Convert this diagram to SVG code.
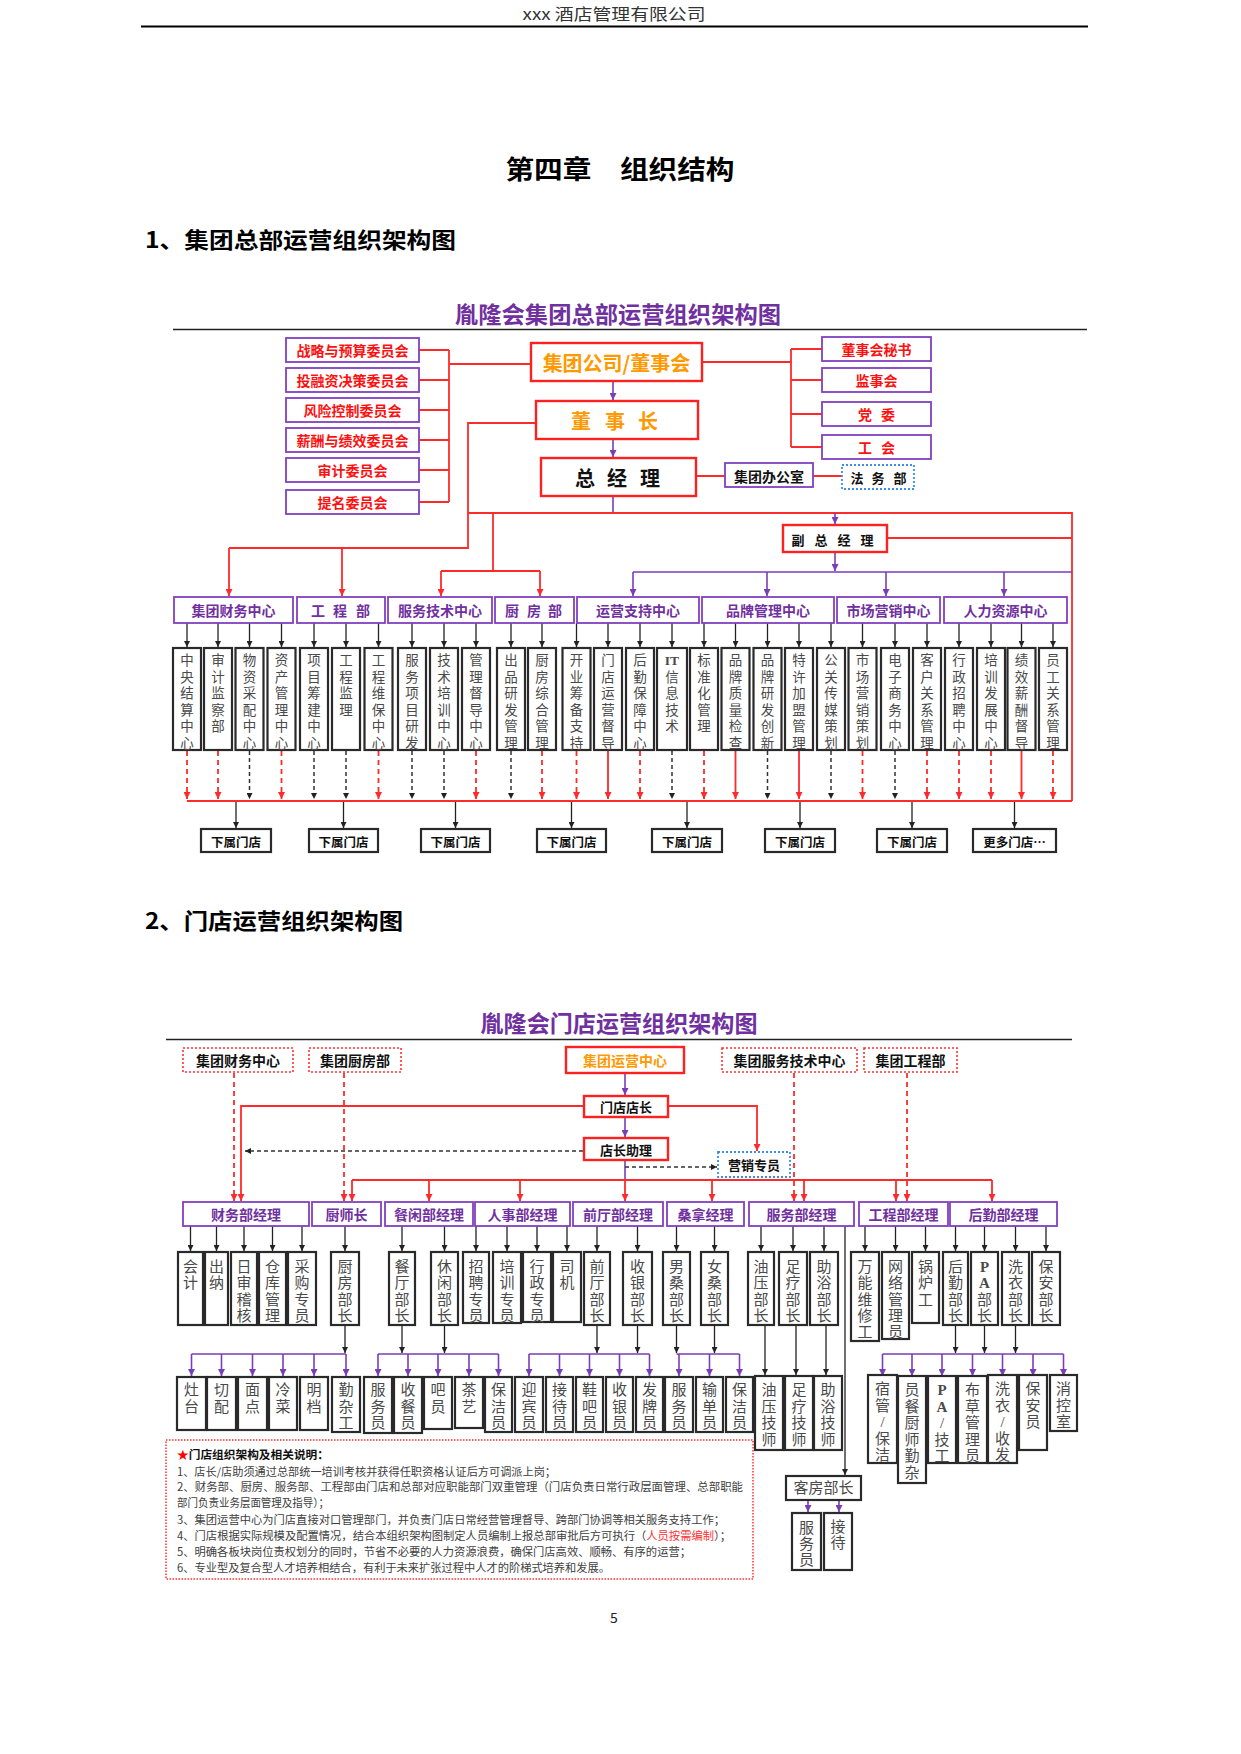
<svg xmlns="http://www.w3.org/2000/svg" width="1241" height="1754" viewBox="0 0 1241 1754">
<style>
text{font-family:"Noto Sans CJK SC",sans-serif}
.b{font-weight:700;text-anchor:middle;dominant-baseline:central}
.red{fill:#FF1010}
.pur{fill:#7030A0}
.org{fill:#FF9900}
.blk{fill:#111}
.f12{font-size:12.5px}.f13{font-size:13px}.f14{font-size:14px}.f20{font-size:20px}
.vt{font-family:"Liberation Serif","Noto Sans CJK SC",serif;font-size:13.5px;fill:#4a4a4a;text-anchor:middle;dominant-baseline:central}
.vt2{font-family:"Liberation Serif","Noto Sans CJK SC",serif;font-size:15px;fill:#4a4a4a;text-anchor:middle;dominant-baseline:central}
.pb{fill:#fff;stroke:#8040C0;stroke-width:1.8}
.rb{fill:#fff;stroke:#FF2020;stroke-width:2.4}
.rd{fill:#fff;stroke:#FF3030;stroke-width:1.6;stroke-dasharray:2 2}
.bd{fill:#fff;stroke:#3A8FE0;stroke-width:1.8;stroke-dasharray:2 2}
.kb{fill:#fff;stroke:#2a2a2a;stroke-width:2.2}
.rl{fill:none;stroke:#FF2A2A;stroke-width:1.8}
.rdl{fill:none;stroke:#FF2A2A;stroke-width:1.8;stroke-dasharray:5 4}
.pl{fill:none;stroke:#7A3DB8;stroke-width:1.6}
.kl{fill:none;stroke:#222;stroke-width:1.3}
.kdl{fill:none;stroke:#333;stroke-width:1.5;stroke-dasharray:4 3}
.mr{marker-end:url(#mr)}
.mp{marker-end:url(#mp)}
.mk{marker-end:url(#mk)}
.note{font-size:11.2px;fill:#404040}
</style>
<defs>
<marker id="mr" viewBox="0 0 10 10" refX="10" refY="5" markerWidth="7" markerHeight="7" markerUnits="userSpaceOnUse" orient="auto"><path d="M0,0L10,5L0,10z" fill="#FF2A2A"/></marker>
<marker id="mp" viewBox="0 0 10 10" refX="10" refY="5" markerWidth="7" markerHeight="7" markerUnits="userSpaceOnUse" orient="auto"><path d="M0,0L10,5L0,10z" fill="#7A3DB8"/></marker>
<marker id="mk" viewBox="0 0 10 10" refX="10" refY="5" markerWidth="6" markerHeight="6" markerUnits="userSpaceOnUse" orient="auto"><path d="M0,0L10,5L0,10z" fill="#222"/></marker>
</defs>
<rect width="1241" height="1754" fill="#fff"/>

<!-- page header -->
<text x="614" y="20" font-family="Liberation Serif, Noto Sans CJK SC, serif" font-size="16" text-anchor="middle" fill="#333" textLength="183" lengthAdjust="spacingAndGlyphs">xxx 酒店管理有限公司</text>
<line x1="141" y1="26.5" x2="1088" y2="26.5" stroke="#000" stroke-width="2"/>
<text x="620" y="179" font-size="26" font-weight="700" text-anchor="middle" fill="#000" textLength="229" lengthAdjust="spacingAndGlyphs">第四章　组织结构</text>
<text x="145" y="248" font-size="22" font-weight="700" fill="#000" textLength="311" lengthAdjust="spacingAndGlyphs">1、集团总部运营组织架构图</text>

<!-- ============ CHART 1 ============ -->
<text x="618" y="323" font-size="23" font-weight="700" text-anchor="middle" fill="#7030A0" textLength="326" lengthAdjust="spacingAndGlyphs">胤隆会集团总部运营组织架构图</text>
<line x1="173" y1="329.5" x2="1087" y2="329.5" stroke="#222" stroke-width="1.6"/>

<g id="connectors1">
<path class="rl" d="M419,350H449M419,380H449M419,410H449M419,440H449M419,470H449M419,502H449M449,350V502M449,364H531"/>
<path class="rl" d="M702,362H791M791,349V447M791,349H822M791,380H822M791,414H822M791,447H822"/>
<path class="pl mp" d="M613,381V400"/>
<path class="pl mp" d="M613,439V457"/>
<path class="pl" d="M613,496V513"/>
<path class="rl" d="M696,476H725M813,476H842"/>
<path class="rl" d="M536,423H468V548H229"/>
<path class="rl mr" d="M229,548V596"/>
<path class="rl mr" d="M342,548V596"/>
<path class="rl" d="M468,513H1072V801"/>
<path class="rl" d="M493,513V571M441,571H540"/>
<path class="rl mr" d="M441,571V596"/>
<path class="rl mr" d="M540,571V596"/>
<path class="pl mp" d="M835,513V524"/>
<path class="pl mp" d="M835,552V571"/>
<path class="pl" d="M633,572H1072"/>
<path class="pl mp" d="M633,572V596"/>
<path class="pl mp" d="M767,572V596"/>
<path class="pl mp" d="M886,572V596"/>
<path class="pl mp" d="M1004,572V596"/>
<path class="rl" d="M887,538H1072M187,801H1072"/>
<!-- dept to columns -->
<path class="kl mk" d="M187,623V647"/><path class="kl mk" d="M218,623V647"/><path class="kl mk" d="M249.5,623V647"/><path class="kl mk" d="M281.5,623V647"/>
<path class="kl mk" d="M314,623V647"/><path class="kl mk" d="M346,623V647"/><path class="kl mk" d="M378.5,623V647"/>
<path class="kl mk" d="M412,623V647"/><path class="kl mk" d="M444,623V647"/><path class="kl mk" d="M476,623V647"/>
<path class="kl mk" d="M511,623V647"/><path class="kl mk" d="M542,623V647"/>
<path class="kl mk" d="M576.5,623V647"/><path class="kl mk" d="M608,623V647"/><path class="kl mk" d="M640,623V647"/><path class="kl mk" d="M672,623V647"/>
<path class="kl mk" d="M704,623V647"/><path class="kl mk" d="M735.5,623V647"/><path class="kl mk" d="M767.5,623V647"/><path class="kl mk" d="M799,623V647"/><path class="kl mk" d="M831,623V647"/>
<path class="kl mk" d="M862.5,623V647"/><path class="kl mk" d="M895,623V647"/><path class="kl mk" d="M927,623V647"/>
<path class="kl mk" d="M959,623V647"/><path class="kl mk" d="M991,623V647"/><path class="kl mk" d="M1021.5,623V647"/><path class="kl mk" d="M1053,623V647"/>
<!-- columns to bottom line -->
<path class="rdl mr" d="M187,751V799"/><path class="rdl mr" d="M218,751V799"/><path class="kdl mk" d="M249.5,751V799"/><path class="rdl mr" d="M281.5,751V799"/>
<path class="kdl mk" d="M314,751V799"/><path class="kdl mk" d="M346,751V799"/><path class="rdl mr" d="M378.5,751V799"/>
<path class="kdl mk" d="M412,751V799"/><path class="kdl mk" d="M444,751V799"/><path class="rdl mr" d="M476,751V799"/>
<path class="kdl mk" d="M511,751V799"/><path class="rdl mr" d="M542,751V799"/>
<path class="rdl mr" d="M576.5,751V799"/><path class="rl mr" d="M608,751V799"/><path class="rdl mr" d="M640,751V799"/><path class="kdl mk" d="M672,751V799"/>
<path class="rdl mr" d="M704,751V799"/><path class="rl mr" d="M735.5,751V799"/><path class="kdl mk" d="M767.5,751V799"/><path class="rl mr" d="M799,751V799"/><path class="kdl mk" d="M831,751V799"/>
<path class="rdl mr" d="M862.5,751V799"/><path class="kdl mk" d="M895,751V799"/><path class="rdl mr" d="M927,751V799"/>
<path class="rdl mr" d="M959,751V799"/><path class="rdl mr" d="M991,751V799"/><path class="rl mr" d="M1021.5,751V799"/><path class="rdl mr" d="M1053,751V799"/>
<!-- to stores -->
<path class="kl mk" d="M236,802V828"/><path class="kl mk" d="M343.5,802V828"/><path class="kl mk" d="M455.5,802V828"/><path class="kl mk" d="M571.5,802V828"/>
<path class="kl mk" d="M687,802V828"/><path class="kl mk" d="M800,802V828"/><path class="kl mk" d="M912,802V828"/><path class="kl mk" d="M1014.5,802V828"/>
</g>

<!-- committees -->
<g id="n-zlys"><rect class="pb" x="286" y="338" width="133" height="24"/><text class="b red f14" x="352.5" y="350">战略与预算委员会</text></g>
<g id="n-trz"><rect class="pb" x="286" y="368" width="133" height="24"/><text class="b red f14" x="352.5" y="380">投融资决策委员会</text></g>
<g id="n-fxkz"><rect class="pb" x="286" y="398" width="133" height="24"/><text class="b red f14" x="352.5" y="410">风险控制委员会</text></g>
<g id="n-xc"><rect class="pb" x="286" y="428" width="133" height="24"/><text class="b red f14" x="352.5" y="440">薪酬与绩效委员会</text></g>
<g id="n-sj"><rect class="pb" x="286" y="458" width="133" height="24"/><text class="b red f14" x="352.5" y="470">审计委员会</text></g>
<g id="n-tm"><rect class="pb" x="286" y="490" width="133" height="24"/><text class="b red f14" x="352.5" y="502">提名委员会</text></g>

<g id="n-board"><rect class="rb" x="531" y="343" width="171" height="38"/><text class="b org f20" x="616.5" y="362">集团公司/董事会</text></g>
<g id="n-chair"><rect class="rb" x="536" y="401" width="162" height="38"/><text class="b org f20" y="420"><tspan x="581">董</tspan><tspan x="615">事</tspan><tspan x="648">长</tspan></text></g>
<g id="n-gm"><rect class="rb" x="541" y="458" width="155" height="38"/><text class="b blk f20" y="477"><tspan x="585">总</tspan><tspan x="617">经</tspan><tspan x="650">理</tspan></text></g>

<g id="n-secr"><rect class="pb" x="822" y="337" width="109" height="24"/><text class="b red f14" x="876.5" y="349">董事会秘书</text></g>
<g id="n-jsh"><rect class="pb" x="822" y="368" width="109" height="24"/><text class="b red f14" x="876.5" y="380">监事会</text></g>
<g id="n-dw"><rect class="pb" x="822" y="402" width="109" height="24"/><text class="b red f14" y="414"><tspan x="865">党</tspan><tspan x="888">委</tspan></text></g>
<g id="n-gh"><rect class="pb" x="822" y="435" width="109" height="24"/><text class="b red f14" y="447"><tspan x="865">工</tspan><tspan x="888">会</tspan></text></g>

<g id="n-office"><rect class="pb" x="725" y="463" width="88" height="24"/><text class="b blk f14" x="769" y="475.5">集团办公室</text></g>
<g id="n-legal"><rect class="bd" x="842" y="465" width="72" height="24"/><text class="b blk f13" y="477"><tspan x="857">法</tspan><tspan x="878">务</tspan><tspan x="900">部</tspan></text></g>
<g id="n-vgm"><rect class="rb" x="783" y="525" width="104" height="27"/><text class="b blk f13" y="538.5"><tspan x="798">副</tspan><tspan x="821">总</tspan><tspan x="844">经</tspan><tspan x="867">理</tspan></text></g>

<!-- departments -->
<g id="d-cw"><rect class="pb" x="174" y="597" width="119" height="26"/><text class="b pur f14" x="233.5" y="610">集团财务中心</text></g>
<g id="d-gc"><rect class="pb" x="297" y="597" width="88" height="26"/><text class="b pur f14" y="610"><tspan x="318">工</tspan><tspan x="340">程</tspan><tspan x="363">部</tspan></text></g>
<g id="d-fw"><rect class="pb" x="388" y="597" width="104" height="26"/><text class="b pur f14" x="440" y="610">服务技术中心</text></g>
<g id="d-cf"><rect class="pb" x="495" y="597" width="79" height="26"/><text class="b pur f14" y="610"><tspan x="512">厨</tspan><tspan x="534">房</tspan><tspan x="555">部</tspan></text></g>
<g id="d-yy"><rect class="pb" x="577" y="597" width="122" height="26"/><text class="b pur f14" x="638" y="610">运营支持中心</text></g>
<g id="d-pp"><rect class="pb" x="702" y="597" width="132" height="26"/><text class="b pur f14" x="768" y="610">品牌管理中心</text></g>
<g id="d-sc"><rect class="pb" x="837" y="597" width="103" height="26"/><text class="b pur f14" x="888.5" y="610">市场营销中心</text></g>
<g id="d-rl"><rect class="pb" x="944" y="597" width="123" height="26"/><text class="b pur f14" x="1005.5" y="610">人力资源中心</text></g>

<!-- columns -->
<g id="c01"><rect class="kb" x="173" y="648" width="28" height="102"/><text class="vt" x="187" y="660">中<tspan x="187" dy="16.6">央</tspan><tspan x="187" dy="16.6">结</tspan><tspan x="187" dy="16.6">算</tspan><tspan x="187" dy="16.6">中</tspan><tspan x="187" dy="16.6">心</tspan></text></g>
<g id="c02"><rect class="kb" x="204" y="648" width="28" height="102"/><text class="vt" x="218" y="660">审<tspan x="218" dy="16.6">计</tspan><tspan x="218" dy="16.6">监</tspan><tspan x="218" dy="16.6">察</tspan><tspan x="218" dy="16.6">部</tspan></text></g>
<g id="c03"><rect class="kb" x="235.5" y="648" width="28" height="102"/><text class="vt" x="249.5" y="660">物<tspan x="249.5" dy="16.6">资</tspan><tspan x="249.5" dy="16.6">采</tspan><tspan x="249.5" dy="16.6">配</tspan><tspan x="249.5" dy="16.6">中</tspan><tspan x="249.5" dy="16.6">心</tspan></text></g>
<g id="c04"><rect class="kb" x="267.5" y="648" width="28" height="102"/><text class="vt" x="281.5" y="660">资<tspan x="281.5" dy="16.6">产</tspan><tspan x="281.5" dy="16.6">管</tspan><tspan x="281.5" dy="16.6">理</tspan><tspan x="281.5" dy="16.6">中</tspan><tspan x="281.5" dy="16.6">心</tspan></text></g>
<g id="c05"><rect class="kb" x="300" y="648" width="28" height="102"/><text class="vt" x="314" y="660">项<tspan x="314" dy="16.6">目</tspan><tspan x="314" dy="16.6">筹</tspan><tspan x="314" dy="16.6">建</tspan><tspan x="314" dy="16.6">中</tspan><tspan x="314" dy="16.6">心</tspan></text></g>
<g id="c06"><rect class="kb" x="332" y="648" width="28" height="102"/><text class="vt" x="346" y="660">工<tspan x="346" dy="16.6">程</tspan><tspan x="346" dy="16.6">监</tspan><tspan x="346" dy="16.6">理</tspan></text></g>
<g id="c07"><rect class="kb" x="364.5" y="648" width="28" height="102"/><text class="vt" x="378.5" y="660">工<tspan x="378.5" dy="16.6">程</tspan><tspan x="378.5" dy="16.6">维</tspan><tspan x="378.5" dy="16.6">保</tspan><tspan x="378.5" dy="16.6">中</tspan><tspan x="378.5" dy="16.6">心</tspan></text></g>
<g id="c08"><rect class="kb" x="398" y="648" width="28" height="102"/><text class="vt" x="412" y="660">服<tspan x="412" dy="16.6">务</tspan><tspan x="412" dy="16.6">项</tspan><tspan x="412" dy="16.6">目</tspan><tspan x="412" dy="16.6">研</tspan><tspan x="412" dy="16.6">发</tspan></text></g>
<g id="c09"><rect class="kb" x="430" y="648" width="28" height="102"/><text class="vt" x="444" y="660">技<tspan x="444" dy="16.6">术</tspan><tspan x="444" dy="16.6">培</tspan><tspan x="444" dy="16.6">训</tspan><tspan x="444" dy="16.6">中</tspan><tspan x="444" dy="16.6">心</tspan></text></g>
<g id="c10"><rect class="kb" x="462" y="648" width="28" height="102"/><text class="vt" x="476" y="660">管<tspan x="476" dy="16.6">理</tspan><tspan x="476" dy="16.6">督</tspan><tspan x="476" dy="16.6">导</tspan><tspan x="476" dy="16.6">中</tspan><tspan x="476" dy="16.6">心</tspan></text></g>
<g id="c11"><rect class="kb" x="497" y="648" width="28" height="102"/><text class="vt" x="511" y="660">出<tspan x="511" dy="16.6">品</tspan><tspan x="511" dy="16.6">研</tspan><tspan x="511" dy="16.6">发</tspan><tspan x="511" dy="16.6">管</tspan><tspan x="511" dy="16.6">理</tspan></text></g>
<g id="c12"><rect class="kb" x="528" y="648" width="28" height="102"/><text class="vt" x="542" y="660">厨<tspan x="542" dy="16.6">房</tspan><tspan x="542" dy="16.6">综</tspan><tspan x="542" dy="16.6">合</tspan><tspan x="542" dy="16.6">管</tspan><tspan x="542" dy="16.6">理</tspan></text></g>
<g id="c13"><rect class="kb" x="562.5" y="648" width="28" height="102"/><text class="vt" x="576.5" y="660">开<tspan x="576.5" dy="16.6">业</tspan><tspan x="576.5" dy="16.6">筹</tspan><tspan x="576.5" dy="16.6">备</tspan><tspan x="576.5" dy="16.6">支</tspan><tspan x="576.5" dy="16.6">持</tspan></text></g>
<g id="c14"><rect class="kb" x="594" y="648" width="28" height="102"/><text class="vt" x="608" y="660">门<tspan x="608" dy="16.6">店</tspan><tspan x="608" dy="16.6">运</tspan><tspan x="608" dy="16.6">营</tspan><tspan x="608" dy="16.6">督</tspan><tspan x="608" dy="16.6">导</tspan></text></g>
<g id="c15"><rect class="kb" x="626" y="648" width="28" height="102"/><text class="vt" x="640" y="660">后<tspan x="640" dy="16.6">勤</tspan><tspan x="640" dy="16.6">保</tspan><tspan x="640" dy="16.6">障</tspan><tspan x="640" dy="16.6">中</tspan><tspan x="640" dy="16.6">心</tspan></text></g>
<g id="c16"><rect class="kb" x="657" y="648" width="30" height="102"/><text class="vt" x="672" y="660" font-weight="700">IT<tspan x="672" dy="16.6" font-weight="400">信</tspan><tspan x="672" dy="16.6" font-weight="400">息</tspan><tspan x="672" dy="16.6" font-weight="400">技</tspan><tspan x="672" dy="16.6" font-weight="400">术</tspan></text></g>
<g id="c17"><rect class="kb" x="690" y="648" width="28" height="102"/><text class="vt" x="704" y="660">标<tspan x="704" dy="16.6">准</tspan><tspan x="704" dy="16.6">化</tspan><tspan x="704" dy="16.6">管</tspan><tspan x="704" dy="16.6">理</tspan></text></g>
<g id="c18"><rect class="kb" x="721.5" y="648" width="28" height="102"/><text class="vt" x="735.5" y="660">品<tspan x="735.5" dy="16.6">牌</tspan><tspan x="735.5" dy="16.6">质</tspan><tspan x="735.5" dy="16.6">量</tspan><tspan x="735.5" dy="16.6">检</tspan><tspan x="735.5" dy="16.6">查</tspan></text></g>
<g id="c19"><rect class="kb" x="753.5" y="648" width="28" height="102"/><text class="vt" x="767.5" y="660">品<tspan x="767.5" dy="16.6">牌</tspan><tspan x="767.5" dy="16.6">研</tspan><tspan x="767.5" dy="16.6">发</tspan><tspan x="767.5" dy="16.6">创</tspan><tspan x="767.5" dy="16.6">新</tspan></text></g>
<g id="c20"><rect class="kb" x="785" y="648" width="28" height="102"/><text class="vt" x="799" y="660">特<tspan x="799" dy="16.6">许</tspan><tspan x="799" dy="16.6">加</tspan><tspan x="799" dy="16.6">盟</tspan><tspan x="799" dy="16.6">管</tspan><tspan x="799" dy="16.6">理</tspan></text></g>
<g id="c21"><rect class="kb" x="817" y="648" width="28" height="102"/><text class="vt" x="831" y="660">公<tspan x="831" dy="16.6">关</tspan><tspan x="831" dy="16.6">传</tspan><tspan x="831" dy="16.6">媒</tspan><tspan x="831" dy="16.6">策</tspan><tspan x="831" dy="16.6">划</tspan></text></g>
<g id="c22"><rect class="kb" x="848.5" y="648" width="28" height="102"/><text class="vt" x="862.5" y="660">市<tspan x="862.5" dy="16.6">场</tspan><tspan x="862.5" dy="16.6">营</tspan><tspan x="862.5" dy="16.6">销</tspan><tspan x="862.5" dy="16.6">策</tspan><tspan x="862.5" dy="16.6">划</tspan></text></g>
<g id="c23"><rect class="kb" x="881" y="648" width="28" height="102"/><text class="vt" x="895" y="660">电<tspan x="895" dy="16.6">子</tspan><tspan x="895" dy="16.6">商</tspan><tspan x="895" dy="16.6">务</tspan><tspan x="895" dy="16.6">中</tspan><tspan x="895" dy="16.6">心</tspan></text></g>
<g id="c24"><rect class="kb" x="913" y="648" width="28" height="102"/><text class="vt" x="927" y="660">客<tspan x="927" dy="16.6">户</tspan><tspan x="927" dy="16.6">关</tspan><tspan x="927" dy="16.6">系</tspan><tspan x="927" dy="16.6">管</tspan><tspan x="927" dy="16.6">理</tspan></text></g>
<g id="c25"><rect class="kb" x="945" y="648" width="28" height="102"/><text class="vt" x="959" y="660">行<tspan x="959" dy="16.6">政</tspan><tspan x="959" dy="16.6">招</tspan><tspan x="959" dy="16.6">聘</tspan><tspan x="959" dy="16.6">中</tspan><tspan x="959" dy="16.6">心</tspan></text></g>
<g id="c26"><rect class="kb" x="977" y="648" width="28" height="102"/><text class="vt" x="991" y="660">培<tspan x="991" dy="16.6">训</tspan><tspan x="991" dy="16.6">发</tspan><tspan x="991" dy="16.6">展</tspan><tspan x="991" dy="16.6">中</tspan><tspan x="991" dy="16.6">心</tspan></text></g>
<g id="c27"><rect class="kb" x="1007.5" y="648" width="28" height="102"/><text class="vt" x="1021.5" y="660">绩<tspan x="1021.5" dy="16.6">效</tspan><tspan x="1021.5" dy="16.6">薪</tspan><tspan x="1021.5" dy="16.6">酬</tspan><tspan x="1021.5" dy="16.6">督</tspan><tspan x="1021.5" dy="16.6">导</tspan></text></g>
<g id="c28"><rect class="kb" x="1039" y="648" width="28" height="102"/><text class="vt" x="1053" y="660">员<tspan x="1053" dy="16.6">工</tspan><tspan x="1053" dy="16.6">关</tspan><tspan x="1053" dy="16.6">系</tspan><tspan x="1053" dy="16.6">管</tspan><tspan x="1053" dy="16.6">理</tspan></text></g>

<!-- stores -->
<g id="s1"><rect class="kb" x="201" y="829" width="70" height="23"/><text class="b blk f12" x="236" y="841">下属门店</text></g>
<g id="s2"><rect class="kb" x="309" y="829" width="69" height="23"/><text class="b blk f12" x="343.5" y="841">下属门店</text></g>
<g id="s3"><rect class="kb" x="421" y="829" width="69" height="23"/><text class="b blk f12" x="455.5" y="841">下属门店</text></g>
<g id="s4"><rect class="kb" x="537" y="829" width="69" height="23"/><text class="b blk f12" x="571.5" y="841">下属门店</text></g>
<g id="s5"><rect class="kb" x="652" y="829" width="70" height="23"/><text class="b blk f12" x="687" y="841">下属门店</text></g>
<g id="s6"><rect class="kb" x="765" y="829" width="70" height="23"/><text class="b blk f12" x="800" y="841">下属门店</text></g>
<g id="s7"><rect class="kb" x="877" y="829" width="70" height="23"/><text class="b blk f12" x="912" y="841">下属门店</text></g>
<g id="s8"><rect class="kb" x="973" y="829" width="83" height="23"/><text class="b blk f12" x="1014.5" y="841">更多门店…</text></g>

<!-- ============ CHART 2 ============ -->
<text x="145" y="929" font-size="22" font-weight="700" fill="#000" textLength="258" lengthAdjust="spacingAndGlyphs">2、门店运营组织架构图</text>
<text x="619" y="1032" font-size="23" font-weight="700" text-anchor="middle" fill="#7030A0" textLength="277" lengthAdjust="spacingAndGlyphs">胤隆会门店运营组织架构图</text>
<line x1="166" y1="1039.5" x2="1072" y2="1039.5" stroke="#222" stroke-width="1.6"/>

<g id="connectors2">
<path class="pl mp" d="M625,1073V1095"/>
<path class="pl mp" d="M625,1117V1137"/>
<path class="pl" d="M625,1160V1180"/>
<path class="rl mr" d="M584,1106H241V1201"/>
<path class="rl mr" d="M668,1106H757V1151"/>
<path class="kdl mk" d="M583,1151H245"/>
<path class="kdl mk" d="M625,1167H717"/>
<path class="rl" d="M352,1180H992"/>
<path class="rl mr" d="M352,1180V1201"/><path class="rl mr" d="M429,1180V1201"/><path class="rl mr" d="M520,1180V1201"/><path class="rl mr" d="M625,1180V1201"/>
<path class="rl mr" d="M712,1180V1201"/><path class="rl mr" d="M804,1180V1201"/><path class="rl mr" d="M896,1180V1201"/><path class="rl mr" d="M992,1180V1201"/>
<path class="rdl mr" d="M234,1073V1201"/><path class="rdl mr" d="M344,1073V1201"/><path class="rdl mr" d="M794,1073V1201"/><path class="rdl mr" d="M907,1073V1201"/>
<!-- dept to row1 -->
<path class="kl mk" d="M190.5,1226V1251"/><path class="kl mk" d="M216.5,1226V1251"/><path class="kl mk" d="M244,1226V1251"/><path class="kl mk" d="M272.5,1226V1251"/><path class="kl mk" d="M302,1226V1251"/>
<path class="kl mk" d="M345,1226V1251"/>
<path class="kl mk" d="M402,1226V1251"/><path class="kl mk" d="M444.5,1226V1251"/>
<path class="kl mk" d="M476,1226V1251"/><path class="kl mk" d="M507,1226V1251"/><path class="kl mk" d="M537,1226V1251"/><path class="kl mk" d="M567,1226V1251"/>
<path class="kl mk" d="M597,1226V1251"/><path class="kl mk" d="M637.5,1226V1251"/>
<path class="kl mk" d="M676.5,1226V1251"/><path class="kl mk" d="M714.5,1226V1251"/>
<path class="kl mk" d="M761,1226V1251"/><path class="kl mk" d="M793,1226V1251"/><path class="kl mk" d="M824,1226V1251"/>
<path class="kl mk" d="M865,1226V1251"/><path class="kl mk" d="M895.5,1226V1251"/><path class="kl mk" d="M925.5,1226V1251"/>
<path class="kl mk" d="M955.5,1226V1251"/><path class="kl mk" d="M984.5,1226V1251"/><path class="kl mk" d="M1015.5,1226V1251"/><path class="kl mk" d="M1046,1226V1251"/>
<path class="kl mk" d="M845,1226V1475"/>
<!-- row1 to row2 -->
<path class="kl mk" d="M345,1325V1353"/>
<path class="pl" d="M191.5,1354H346"/>
<path class="pl mp" d="M191.5,1354V1376"/><path class="pl mp" d="M221.5,1354V1376"/><path class="pl mp" d="M252.5,1354V1376"/><path class="pl mp" d="M283,1354V1376"/><path class="pl mp" d="M314,1354V1376"/><path class="pl mp" d="M346,1354V1376"/>
<path class="kl mk" d="M402,1325V1353"/><path class="kl mk" d="M444.5,1325V1353"/>
<path class="pl" d="M378,1354H498.5"/>
<path class="pl mp" d="M378,1354V1376"/><path class="pl mp" d="M408,1354V1376"/><path class="pl mp" d="M438,1354V1376"/><path class="pl mp" d="M469,1354V1376"/><path class="pl mp" d="M498.5,1354V1376"/>
<path class="kl mk" d="M597,1325V1353"/><path class="kl mk" d="M637.5,1325V1353"/>
<path class="pl" d="M529,1354H649.5"/>
<path class="pl mp" d="M529,1354V1376"/><path class="pl mp" d="M559.5,1354V1376"/><path class="pl mp" d="M589.5,1354V1376"/><path class="pl mp" d="M619.5,1354V1376"/><path class="pl mp" d="M649.5,1354V1376"/>
<path class="kl mk" d="M676.5,1325V1353"/><path class="kl mk" d="M714.5,1325V1353"/>
<path class="pl" d="M676.5,1354H739.5"/>
<path class="pl mp" d="M679,1354V1376"/><path class="pl mp" d="M709.5,1354V1376"/><path class="pl mp" d="M739.5,1354V1376"/>
<path class="kl mk" d="M765,1325V1375"/><path class="kl mk" d="M796,1325V1375"/><path class="kl mk" d="M826,1325V1375"/>
<path class="kl mk" d="M955.5,1325V1353"/><path class="kl mk" d="M984.5,1325V1353"/><path class="kl mk" d="M1015.5,1325V1353"/>
<path class="pl" d="M882.5,1354H1063.5"/>
<path class="pl mp" d="M882.5,1354V1376"/><path class="pl mp" d="M912,1354V1376"/><path class="pl mp" d="M942,1354V1376"/><path class="pl mp" d="M972.5,1354V1376"/><path class="pl mp" d="M1002.5,1354V1376"/><path class="pl mp" d="M1033,1354V1376"/><path class="pl mp" d="M1063.5,1354V1376"/>
<path class="pl mp" d="M808,1500V1512"/><path class="pl mp" d="M839,1500V1512"/>
</g>

<!-- top row chart2 -->
<g id="t-cw"><rect class="rd" x="183" y="1048" width="110" height="24"/><text class="b blk f14" x="238" y="1060">集团财务中心</text></g>
<g id="t-cf"><rect class="rd" x="309" y="1048" width="92" height="24"/><text class="b blk f14" x="355" y="1060">集团厨房部</text></g>
<g id="t-yy"><rect class="rb" x="566" y="1047" width="118" height="26"/><text class="b org f14" x="625" y="1060">集团运营中心</text></g>
<g id="t-fw"><rect class="rd" x="722" y="1048" width="135" height="24"/><text class="b blk f14" x="789.5" y="1060">集团服务技术中心</text></g>
<g id="t-gc"><rect class="rd" x="864" y="1048" width="93" height="24"/><text class="b blk f14" x="910.5" y="1060">集团工程部</text></g>
<g id="t-dz"><rect class="rb" x="584" y="1096" width="84" height="21"/><text class="b blk f13" x="626" y="1106.5">门店店长</text></g>
<g id="t-zl"><rect class="rb" x="584" y="1138" width="84" height="22"/><text class="b blk f13" x="626" y="1149">店长助理</text></g>
<g id="t-yx"><rect class="bd" x="718" y="1152" width="72" height="25"/><text class="b blk f13" x="754" y="1164.5">营销专员</text></g>

<!-- dept row chart2 -->
<g id="m-cw"><rect class="pb" x="183" y="1202" width="126" height="24"/><text class="b pur f14" x="246" y="1214">财务部经理</text></g>
<g id="m-cs"><rect class="pb" x="312" y="1202" width="69" height="24"/><text class="b pur f14" x="346.5" y="1214">厨师长</text></g>
<g id="m-cx"><rect class="pb" x="385" y="1202" width="88" height="24"/><text class="b pur f14" x="429" y="1214">餐闲部经理</text></g>
<g id="m-rs"><rect class="pb" x="475" y="1202" width="95" height="24"/><text class="b pur f14" x="522.5" y="1214">人事部经理</text></g>
<g id="m-qt"><rect class="pb" x="573" y="1202" width="90" height="24"/><text class="b pur f14" x="618" y="1214">前厅部经理</text></g>
<g id="m-sn"><rect class="pb" x="667" y="1202" width="77" height="24"/><text class="b pur f14" x="705.5" y="1214">桑拿经理</text></g>
<g id="m-fw"><rect class="pb" x="749" y="1202" width="105" height="24"/><text class="b pur f14" x="801.5" y="1214">服务部经理</text></g>
<g id="m-gc"><rect class="pb" x="859" y="1202" width="89" height="24"/><text class="b pur f14" x="903.5" y="1214">工程部经理</text></g>
<g id="m-hq"><rect class="pb" x="950" y="1202" width="107" height="24"/><text class="b pur f14" x="1003.5" y="1214">后勤部经理</text></g>

<!-- row1 -->
<g id="r1-01"><rect class="kb" x="178" y="1252" width="25" height="73"/><text class="vt2" x="190.5" y="1267">会<tspan x="190.5" dy="16.3">计</tspan></text></g>
<g id="r1-02"><rect class="kb" x="205" y="1252" width="23" height="73"/><text class="vt2" x="216.5" y="1267">出<tspan x="216.5" dy="16.3">纳</tspan></text></g>
<g id="r1-03"><rect class="kb" x="231" y="1252" width="26" height="73"/><text class="vt2" x="244" y="1267">日<tspan x="244" dy="16.3">审</tspan><tspan x="244" dy="16.3">稽</tspan><tspan x="244" dy="16.3">核</tspan></text></g>
<g id="r1-04"><rect class="kb" x="259" y="1252" width="27" height="73"/><text class="vt2" x="272.5" y="1267">仓<tspan x="272.5" dy="16.3">库</tspan><tspan x="272.5" dy="16.3">管</tspan><tspan x="272.5" dy="16.3">理</tspan></text></g>
<g id="r1-05"><rect class="kb" x="288" y="1252" width="28" height="73"/><text class="vt2" x="302" y="1267">采<tspan x="302" dy="16.3">购</tspan><tspan x="302" dy="16.3">专</tspan><tspan x="302" dy="16.3">员</tspan></text></g>
<g id="r1-06"><rect class="kb" x="331" y="1252" width="28" height="73"/><text class="vt2" x="345" y="1267">厨<tspan x="345" dy="16.3">房</tspan><tspan x="345" dy="16.3">部</tspan><tspan x="345" dy="16.3">长</tspan></text></g>
<g id="r1-07"><rect class="kb" x="389" y="1252" width="26" height="73"/><text class="vt2" x="402" y="1267">餐<tspan x="402" dy="16.3">厅</tspan><tspan x="402" dy="16.3">部</tspan><tspan x="402" dy="16.3">长</tspan></text></g>
<g id="r1-08"><rect class="kb" x="431" y="1252" width="27" height="73"/><text class="vt2" x="444.5" y="1267">休<tspan x="444.5" dy="16.3">闲</tspan><tspan x="444.5" dy="16.3">部</tspan><tspan x="444.5" dy="16.3">长</tspan></text></g>
<g id="r1-09"><rect class="kb" x="463" y="1252" width="26" height="71"/><text class="vt2" x="476" y="1267">招<tspan x="476" dy="16.3">聘</tspan><tspan x="476" dy="16.3">专</tspan><tspan x="476" dy="16.3">员</tspan></text></g>
<g id="r1-10"><rect class="kb" x="493" y="1252" width="28" height="71"/><text class="vt2" x="507" y="1267">培<tspan x="507" dy="16.3">训</tspan><tspan x="507" dy="16.3">专</tspan><tspan x="507" dy="16.3">员</tspan></text></g>
<g id="r1-11"><rect class="kb" x="523" y="1252" width="28" height="70"/><text class="vt2" x="537" y="1267">行<tspan x="537" dy="16.3">政</tspan><tspan x="537" dy="16.3">专</tspan><tspan x="537" dy="16.3">员</tspan></text></g>
<g id="r1-12"><rect class="kb" x="553" y="1252" width="28" height="70"/><text class="vt2" x="567" y="1267">司<tspan x="567" dy="16.3">机</tspan></text></g>
<g id="r1-13"><rect class="kb" x="584" y="1252" width="26" height="73"/><text class="vt2" x="597" y="1267">前<tspan x="597" dy="16.3">厅</tspan><tspan x="597" dy="16.3">部</tspan><tspan x="597" dy="16.3">长</tspan></text></g>
<g id="r1-14"><rect class="kb" x="623" y="1252" width="29" height="73"/><text class="vt2" x="637.5" y="1267">收<tspan x="637.5" dy="16.3">银</tspan><tspan x="637.5" dy="16.3">部</tspan><tspan x="637.5" dy="16.3">长</tspan></text></g>
<g id="r1-15"><rect class="kb" x="663" y="1252" width="27" height="73"/><text class="vt2" x="676.5" y="1267">男<tspan x="676.5" dy="16.3">桑</tspan><tspan x="676.5" dy="16.3">部</tspan><tspan x="676.5" dy="16.3">长</tspan></text></g>
<g id="r1-16"><rect class="kb" x="701" y="1252" width="27" height="73"/><text class="vt2" x="714.5" y="1267">女<tspan x="714.5" dy="16.3">桑</tspan><tspan x="714.5" dy="16.3">部</tspan><tspan x="714.5" dy="16.3">长</tspan></text></g>
<g id="r1-17"><rect class="kb" x="748" y="1252" width="26" height="73"/><text class="vt2" x="761" y="1267">油<tspan x="761" dy="16.3">压</tspan><tspan x="761" dy="16.3">部</tspan><tspan x="761" dy="16.3">长</tspan></text></g>
<g id="r1-18"><rect class="kb" x="779" y="1252" width="28" height="73"/><text class="vt2" x="793" y="1267">足<tspan x="793" dy="16.3">疗</tspan><tspan x="793" dy="16.3">部</tspan><tspan x="793" dy="16.3">长</tspan></text></g>
<g id="r1-19"><rect class="kb" x="810" y="1252" width="28" height="73"/><text class="vt2" x="824" y="1267">助<tspan x="824" dy="16.3">浴</tspan><tspan x="824" dy="16.3">部</tspan><tspan x="824" dy="16.3">长</tspan></text></g>
<g id="r1-20"><rect class="kb" x="851" y="1252" width="28" height="89"/><text class="vt2" x="865" y="1267">万<tspan x="865" dy="16.3">能</tspan><tspan x="865" dy="16.3">维</tspan><tspan x="865" dy="16.3">修</tspan><tspan x="865" dy="16.3">工</tspan></text></g>
<g id="r1-21"><rect class="kb" x="882" y="1252" width="27" height="87"/><text class="vt2" x="895.5" y="1267">网<tspan x="895.5" dy="16.3">络</tspan><tspan x="895.5" dy="16.3">管</tspan><tspan x="895.5" dy="16.3">理</tspan><tspan x="895.5" dy="16.3">员</tspan></text></g>
<g id="r1-22"><rect class="kb" x="912" y="1252" width="27" height="71"/><text class="vt2" x="925.5" y="1267">锅<tspan x="925.5" dy="16.3">炉</tspan><tspan x="925.5" dy="16.3">工</tspan></text></g>
<g id="r1-23"><rect class="kb" x="943" y="1252" width="25" height="73"/><text class="vt2" x="955.5" y="1267">后<tspan x="955.5" dy="16.3">勤</tspan><tspan x="955.5" dy="16.3">部</tspan><tspan x="955.5" dy="16.3">长</tspan></text></g>
<g id="r1-24"><rect class="kb" x="971" y="1252" width="27" height="73"/><text class="vt2" x="984.5" y="1267"><tspan font-weight="700">P</tspan><tspan x="984.5" dy="16.3" font-weight="700">A</tspan><tspan x="984.5" dy="16.3">部</tspan><tspan x="984.5" dy="16.3">长</tspan></text></g>
<g id="r1-25"><rect class="kb" x="1002" y="1252" width="27" height="73"/><text class="vt2" x="1015.5" y="1267">洗<tspan x="1015.5" dy="16.3">衣</tspan><tspan x="1015.5" dy="16.3">部</tspan><tspan x="1015.5" dy="16.3">长</tspan></text></g>
<g id="r1-26"><rect class="kb" x="1032" y="1252" width="28" height="73"/><text class="vt2" x="1046" y="1267">保<tspan x="1046" dy="16.3">安</tspan><tspan x="1046" dy="16.3">部</tspan><tspan x="1046" dy="16.3">长</tspan></text></g>

<!-- row2 -->
<g id="r2-01"><rect class="kb" x="177" y="1377" width="29" height="53"/><text class="vt2" x="191.5" y="1390">灶<tspan x="191.5" dy="16.5">台</tspan></text></g>
<g id="r2-02"><rect class="kb" x="207" y="1377" width="29" height="53"/><text class="vt2" x="221.5" y="1390">切<tspan x="221.5" dy="16.5">配</tspan></text></g>
<g id="r2-03"><rect class="kb" x="238" y="1377" width="29" height="53"/><text class="vt2" x="252.5" y="1390">面<tspan x="252.5" dy="16.5">点</tspan></text></g>
<g id="r2-04"><rect class="kb" x="269" y="1377" width="28" height="53"/><text class="vt2" x="283" y="1390">冷<tspan x="283" dy="16.5">菜</tspan></text></g>
<g id="r2-05"><rect class="kb" x="300" y="1377" width="28" height="53"/><text class="vt2" x="314" y="1390">明<tspan x="314" dy="16.5">档</tspan></text></g>
<g id="r2-06"><rect class="kb" x="332" y="1377" width="28" height="55"/><text class="vt2" x="346" y="1390">勤<tspan x="346" dy="16.5">杂</tspan><tspan x="346" dy="16.5">工</tspan></text></g>
<g id="r2-07"><rect class="kb" x="364" y="1377" width="28" height="56"/><text class="vt2" x="378" y="1390">服<tspan x="378" dy="16.5">务</tspan><tspan x="378" dy="16.5">员</tspan></text></g>
<g id="r2-08"><rect class="kb" x="394" y="1377" width="28" height="56"/><text class="vt2" x="408" y="1390">收<tspan x="408" dy="16.5">餐</tspan><tspan x="408" dy="16.5">员</tspan></text></g>
<g id="r2-09"><rect class="kb" x="424" y="1377" width="28" height="52"/><text class="vt2" x="438" y="1390">吧<tspan x="438" dy="16.5">员</tspan></text></g>
<g id="r2-10"><rect class="kb" x="455" y="1377" width="28" height="51"/><text class="vt2" x="469" y="1390">茶<tspan x="469" dy="16.5">艺</tspan></text></g>
<g id="r2-11"><rect class="kb" x="485" y="1377" width="27" height="55"/><text class="vt2" x="498.5" y="1390">保<tspan x="498.5" dy="16.5">洁</tspan><tspan x="498.5" dy="16.5">员</tspan></text></g>
<g id="r2-12"><rect class="kb" x="515" y="1377" width="28" height="55"/><text class="vt2" x="529" y="1390">迎<tspan x="529" dy="16.5">宾</tspan><tspan x="529" dy="16.5">员</tspan></text></g>
<g id="r2-13"><rect class="kb" x="546" y="1377" width="27" height="55"/><text class="vt2" x="559.5" y="1390">接<tspan x="559.5" dy="16.5">待</tspan><tspan x="559.5" dy="16.5">员</tspan></text></g>
<g id="r2-14"><rect class="kb" x="576" y="1377" width="27" height="55"/><text class="vt2" x="589.5" y="1390">鞋<tspan x="589.5" dy="16.5">吧</tspan><tspan x="589.5" dy="16.5">员</tspan></text></g>
<g id="r2-15"><rect class="kb" x="606" y="1377" width="27" height="55"/><text class="vt2" x="619.5" y="1390">收<tspan x="619.5" dy="16.5">银</tspan><tspan x="619.5" dy="16.5">员</tspan></text></g>
<g id="r2-16"><rect class="kb" x="636" y="1377" width="27" height="55"/><text class="vt2" x="649.5" y="1390">发<tspan x="649.5" dy="16.5">牌</tspan><tspan x="649.5" dy="16.5">员</tspan></text></g>
<g id="r2-17"><rect class="kb" x="665" y="1377" width="28" height="55"/><text class="vt2" x="679" y="1390">服<tspan x="679" dy="16.5">务</tspan><tspan x="679" dy="16.5">员</tspan></text></g>
<g id="r2-18"><rect class="kb" x="696" y="1377" width="27" height="55"/><text class="vt2" x="709.5" y="1390">输<tspan x="709.5" dy="16.5">单</tspan><tspan x="709.5" dy="16.5">员</tspan></text></g>
<g id="r2-19"><rect class="kb" x="726" y="1377" width="27" height="55"/><text class="vt2" x="739.5" y="1390">保<tspan x="739.5" dy="16.5">洁</tspan><tspan x="739.5" dy="16.5">员</tspan></text></g>
<g id="r2-20"><rect class="kb" x="755" y="1376" width="28" height="74"/><text class="vt2" x="769" y="1390">油<tspan x="769" dy="16.5">压</tspan><tspan x="769" dy="16.5">技</tspan><tspan x="769" dy="16.5">师</tspan></text></g>
<g id="r2-21"><rect class="kb" x="785" y="1376" width="28" height="74"/><text class="vt2" x="799" y="1390">足<tspan x="799" dy="16.5">疗</tspan><tspan x="799" dy="16.5">技</tspan><tspan x="799" dy="16.5">师</tspan></text></g>
<g id="r2-22"><rect class="kb" x="814" y="1376" width="28" height="74"/><text class="vt2" x="828" y="1390">助<tspan x="828" dy="16.5">浴</tspan><tspan x="828" dy="16.5">技</tspan><tspan x="828" dy="16.5">师</tspan></text></g>
<g id="r2-23"><rect class="kb" x="868" y="1375" width="29" height="88"/><text class="vt2" x="882.5" y="1389">宿<tspan x="882.5" dy="16.5">管</tspan><tspan x="882.5" dy="16.5">/</tspan><tspan x="882.5" dy="16.5">保</tspan><tspan x="882.5" dy="16.5">洁</tspan></text></g>
<g id="r2-24"><rect class="kb" x="898" y="1376" width="28" height="107"/><text class="vt2" x="912" y="1390">员<tspan x="912" dy="16.5">餐</tspan><tspan x="912" dy="16.5">厨</tspan><tspan x="912" dy="16.5">师</tspan><tspan x="912" dy="16.5">勤</tspan><tspan x="912" dy="16.5">杂</tspan></text></g>
<g id="r2-25"><rect class="kb" x="928" y="1376" width="28" height="87"/><text class="vt2" x="942" y="1390"><tspan font-weight="700">P</tspan><tspan x="942" dy="16.5" font-weight="700">A</tspan><tspan x="942" dy="16.5">/</tspan><tspan x="942" dy="16.5">技</tspan><tspan x="942" dy="16.5">工</tspan></text></g>
<g id="r2-26"><rect class="kb" x="958" y="1376" width="29" height="87"/><text class="vt2" x="972.5" y="1390">布<tspan x="972.5" dy="16.5">草</tspan><tspan x="972.5" dy="16.5">管</tspan><tspan x="972.5" dy="16.5">理</tspan><tspan x="972.5" dy="16.5">员</tspan></text></g>
<g id="r2-27"><rect class="kb" x="988" y="1375" width="29" height="88"/><text class="vt2" x="1002.5" y="1389">洗<tspan x="1002.5" dy="16.5">衣</tspan><tspan x="1002.5" dy="16.5">/</tspan><tspan x="1002.5" dy="16.5">收</tspan><tspan x="1002.5" dy="16.5">发</tspan></text></g>
<g id="r2-28"><rect class="kb" x="1019" y="1375" width="28" height="75"/><text class="vt2" x="1033" y="1389">保<tspan x="1033" dy="16.5">安</tspan><tspan x="1033" dy="16.5">员</tspan></text></g>
<g id="r2-29"><rect class="kb" x="1050" y="1375" width="27" height="56"/><text class="vt2" x="1063.5" y="1389">消<tspan x="1063.5" dy="16.5">控</tspan><tspan x="1063.5" dy="16.5">室</tspan></text></g>

<g id="kf"><rect class="kb" x="786" y="1476" width="75" height="24"/><text class="vt2" x="823.5" y="1488">客房部长</text></g>
<g id="kf-fw"><rect class="kb" x="792" y="1513" width="29" height="57"/><text class="vt2" x="806.5" y="1528">服<tspan x="806.5" dy="16">务</tspan><tspan x="806.5" dy="16">员</tspan></text></g>
<g id="kf-jd"><rect class="kb" x="824" y="1513" width="28" height="57"/><text class="vt2" x="838" y="1527">接<tspan x="838" dy="16">待</tspan></text></g>

<!-- notes -->
<g id="notes">
<rect x="166" y="1440" width="587" height="139" fill="#fff" stroke="#FF3030" stroke-width="1.5" stroke-dasharray="1.5 1.5"/>
<text x="177" y="1459" font-size="11.7" font-weight="700" fill="#111" textLength="152" lengthAdjust="spacingAndGlyphs"><tspan fill="#FF0000">★</tspan>门店组织架构及相关说明：</text>
<text class="note" x="177" y="1476" textLength="379" lengthAdjust="spacingAndGlyphs">1、店长/店助须通过总部统一培训考核并获得任职资格认证后方可调派上岗；</text>
<text class="note" x="177" y="1491" textLength="566" lengthAdjust="spacingAndGlyphs">2、财务部、厨房、服务部、工程部由门店和总部对应职能部门双重管理（门店负责日常行政层面管理、总部职能</text>
<text class="note" x="177" y="1507" textLength="152" lengthAdjust="spacingAndGlyphs">部门负责业务层面管理及指导）；</text>
<text class="note" x="177" y="1524" textLength="548" lengthAdjust="spacingAndGlyphs">3、集团运营中心为门店直接对口管理部门，并负责门店日常经营管理督导、跨部门协调等相关服务支持工作；</text>
<text class="note" x="177" y="1540" textLength="554" lengthAdjust="spacingAndGlyphs">4、门店根据实际规模及配置情况，结合本组织架构图制定人员编制上报总部审批后方可执行（<tspan fill="#FF3030">人员按需编制</tspan>）；</text>
<text class="note" x="177" y="1556" textLength="514" lengthAdjust="spacingAndGlyphs">5、明确各板块岗位责权划分的同时，节省不必要的人力资源浪费，确保门店高效、顺畅、有序的运营；</text>
<text class="note" x="177" y="1572" textLength="433" lengthAdjust="spacingAndGlyphs">6、专业型及复合型人才培养相结合，有利于未来扩张过程中人才的阶梯式培养和发展。</text>
</g>

<text x="614" y="1623" font-family="Liberation Serif, serif" font-size="14" text-anchor="middle" fill="#222">5</text>
</svg>
